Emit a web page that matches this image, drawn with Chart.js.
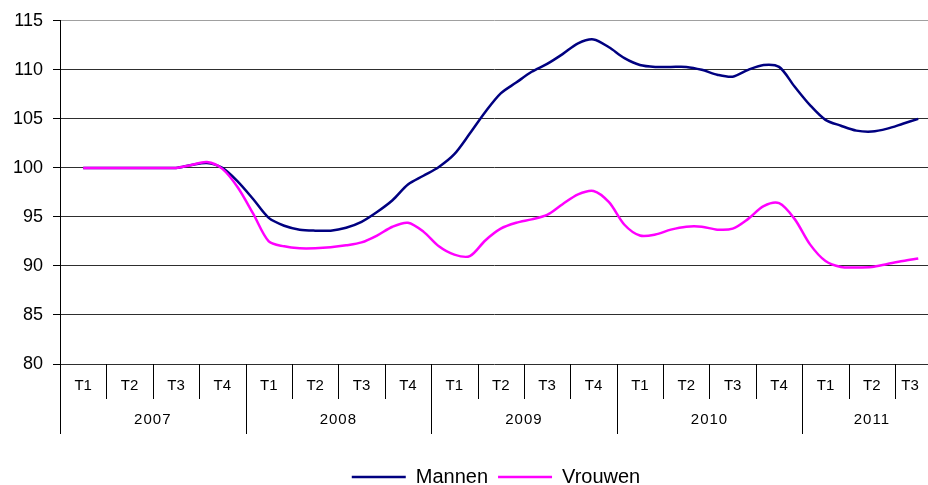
<!DOCTYPE html>
<html>
<head>
<meta charset="utf-8">
<script src="https://cdn.jsdelivr.net/npm/chart.js@4/dist/chart.umd.min.js"></script>
<style>
  html, body { margin: 0; padding: 0; overflow: hidden; background: #fff; }
  #wrap { width: 928px; height: 497px; }
</style>
</head>
<body>
<div id="wrap"><canvas id="chart"></canvas></div>
<script>
// quarters per year (2011 stops at T3)
const years = ["2007", "2008", "2009", "2010", "2011"];
const quarters = [
  "T1", "T2", "T3", "T4", "T1", "T2", "T3", "T4", "T1", "T2",
  "T3", "T4", "T1", "T2", "T3", "T4", "T1", "T2", "T3"
];

// monthly index values, mid T1 2007 .. mid T3 2011
const mannen = [
  100, 100, 100, 100, 100, 100, 100, 100.3, 100.5, 100.0,
  98.6, 96.8, 94.9, 94.1, 93.7, 93.6, 93.6, 93.9, 94.5, 95.5,
  96.7, 98.3, 99.2, 100.1, 101.4, 103.5, 105.7, 107.6, 108.7, 109.8,
  110.6, 111.6, 112.7, 113.1, 112.3, 111.2, 110.5, 110.3, 110.3, 110.3,
  110.0, 109.5, 109.3, 110.0, 110.5, 110.3, 108.3, 106.4, 104.9, 104.3,
  103.8, 103.7, 104.0, 104.5, 105.0
];
const vrouwen = [
  100, 100, 100, 100, 100, 100, 100, 100.3, 100.6, 99.9,
  98.0, 95.3, 92.5, 92.0, 91.8, 91.8, 91.9, 92.1, 92.4, 93.1,
  94.0, 94.4, 93.5, 92.0, 91.15, 91.0, 92.6, 93.8, 94.4, 94.75,
  95.2, 96.3, 97.3, 97.65, 96.5, 94.2, 93.1, 93.2, 93.7, 94.0,
  94.0, 93.7, 93.8, 94.8, 96.1, 96.4, 94.8, 92.2, 90.5, 89.9,
  89.85, 89.9, 90.2, 90.5, 90.75
];

const yMin = 80, yMax = 115, yStep = 5;
const FONT = '"Liberation Sans", Arial, sans-serif';

// x in quarter units: month k sits at quarter centre + k/3
const toPoints = arr => arr.map((v, k) => ({ x: 0.5 + k / 3, y: v }));

// two-level category axis (quarters + years) drawn under the plot
const quarterAxis = {
  id: "quarterAxis",
  afterLayout(chart) {
    // legend in the original sits a bit right of centre
    chart.legend.left += 64;
  },
  afterDraw(chart) {
    const xs = chart.scales.x;
    const area = chart.chartArea;
    const top = area.bottom;
    const ctx = chart.ctx;
    ctx.save();
    ctx.strokeStyle = "#000";
    ctx.lineWidth = 1;
    ctx.fillStyle = "#000";
    ctx.textAlign = "center";
    ctx.textBaseline = "middle";
    ctx.font = "15px " + FONT;

    quarters.forEach((q, i) => {
      const px = Math.round(xs.getPixelForValue(i)) + 0.5;
      const len = i % 4 === 0 ? 70 : 35;
      ctx.beginPath();
      ctx.moveTo(px, top);
      ctx.lineTo(px, top + len);
      ctx.stroke();
      const cx = Math.min(xs.getPixelForValue(i + 0.5), area.right - 18);
      ctx.fillText(q, cx, top + 22);
    });

    ctx.letterSpacing = "1px";
    years.forEach((y, j) => {
      const start = j * 4;
      const end = Math.min(start + 4, quarters.length);
      ctx.fillText(y, xs.getPixelForValue((start + end) / 2), top + 56);
    });
    ctx.restore();
  }
};

new Chart(document.getElementById("chart"), {
  type: "line",
  data: {
    datasets: [
      {
        label: "Mannen",
        data: toPoints(mannen),
        borderColor: "#000080",
        backgroundColor: "#000080",
        borderWidth: 2.5,
        pointRadius: 0,
        tension: 0.3,
        order: 1
      },
      {
        label: "Vrouwen",
        data: toPoints(vrouwen),
        borderColor: "#ff00ff",
        backgroundColor: "#ff00ff",
        borderWidth: 2.5,
        pointRadius: 0,
        tension: 0.3,
        order: 0
      }
    ]
  },
  options: {
    responsive: true,
    maintainAspectRatio: false,
    animation: false,
    layout: { padding: { top: 20, right: 0, left: 0, bottom: 0 } },
    scales: {
      x: {
        type: "linear",
        min: 0,
        max: 18.71,
        grid: { display: false },
        border: { display: false },
        ticks: { display: false },
        afterFit: s => { s.height = 93; }
      },
      y: {
        min: yMin,
        max: yMax,
        ticks: {
          stepSize: yStep,
          color: "#000",
          padding: 10,
          font: { family: FONT, size: 18 }
        },
        grid: {
          color: c => (c.tick && c.tick.value === yMax ? "#a0a0a0" : "#2e2e2e"),
          tickColor: "#000",
          tickLength: 7,
          lineWidth: 1
        },
        border: { color: "#000", width: 1 },
        afterFit: s => { s.width = 60; }
      }
    },
    plugins: {
      legend: {
        position: "bottom",
        labels: {
          usePointStyle: true,
          pointStyle: "line",
          pointStyleWidth: 54,
          color: "#000",
          padding: 10,
          font: { family: FONT, size: 20 },
          sort: (a, b) => a.datasetIndex - b.datasetIndex
        }
      },
      tooltip: { enabled: false }
    }
  },
  plugins: [quarterAxis]
});
</script>
</body>
</html>
